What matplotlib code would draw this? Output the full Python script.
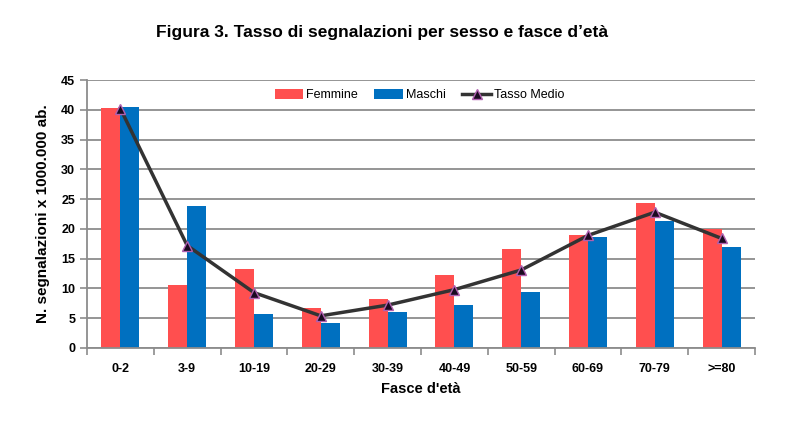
import numpy as np
import matplotlib.pyplot as plt

# Dati
fasce = ['0-2', '3-9', '10-19', '20-29', '30-39', '40-49', '50-59', '60-69', '70-79', '>=80']
femmine = [40.3, 10.6, 13.2, 6.8, 8.3, 12.3, 16.7, 19.0, 24.4, 19.9]
maschi = [40.4, 23.9, 5.7, 4.2, 6.1, 7.2, 9.4, 18.6, 21.3, 17.0]
tasso_medio = [40.2, 17.2, 9.3, 5.4, 7.2, 9.8, 13.1, 18.9, 22.8, 18.4]

plt.rcParams['font.family'] = ['Liberation Sans', 'DejaVu Sans']

fig = plt.figure(figsize=(8.04, 4.23), dpi=100)
ax = fig.add_axes([87 / 804, 1 - 348 / 423, 668 / 804, 268 / 423])

x = np.arange(len(fasce))
w = 0.285
b1 = ax.bar(x - w / 2, femmine, w, color='#FF4F4F', label='Femmine', zorder=2)
b2 = ax.bar(x + w / 2, maschi, w, color='#0070C0', label='Maschi', zorder=2)
l1, = ax.plot(x, tasso_medio, color='#333333', lw=2.5, marker='^', ms=7,
              mfc='#1a0a20', mec='#B060B0', mew=1, label='Tasso Medio', zorder=3)

ax.set_xlim(-0.5, len(fasce) - 0.5)
ax.set_ylim(0, 45)
ax.set_yticks(range(0, 46, 5))
ax.yaxis.grid(True, color='#8c8c8c', lw=1.3, zorder=0)
ax.set_axisbelow(True)

ax.set_xticks(x)
ax.set_xticklabels(fasce, fontsize=9, fontweight='bold')
ax.set_xticks(np.arange(-0.5, len(fasce), 1), minor=True)
ax.tick_params(axis='x', which='major', length=0, pad=11)
ax.tick_params(axis='x', which='minor', length=5, color='#8c8c8c', width=1.2)
ax.tick_params(axis='y', length=5, color='#8c8c8c', width=1.2, labelsize=9)
for lab in ax.get_yticklabels():
    lab.set_fontweight('bold')

for s in ['top', 'right']:
    ax.spines[s].set_visible(False)
for s in ['left', 'bottom']:
    ax.spines[s].set_color('#8c8c8c')
    ax.spines[s].set_linewidth(1.3)

ax.set_xlabel("Fasce d'età", fontsize=10.5, fontweight='bold', labelpad=5)
ax.set_ylabel('N. segnalazioni x 1000.000 ab.', fontsize=11, fontweight='bold', labelpad=8)

ax.legend([b1, b2, l1], ['Femmine', 'Maschi', 'Tasso Medio'],
          loc='upper center', bbox_to_anchor=(0.498, 1.0), ncol=3, frameon=False,
          fontsize=9, handlelength=2.3, handleheight=0.9, handletextpad=0.25,
          columnspacing=1.3, borderaxespad=0.3)

fig.text(382 / 804, 1 - 33 / 423, "Figura 3. Tasso di segnalazioni per sesso e fasce d\u2019età",
         ha='center', va='center', fontsize=12.5, fontweight='bold')

fig.savefig('out.png', dpi=100)
